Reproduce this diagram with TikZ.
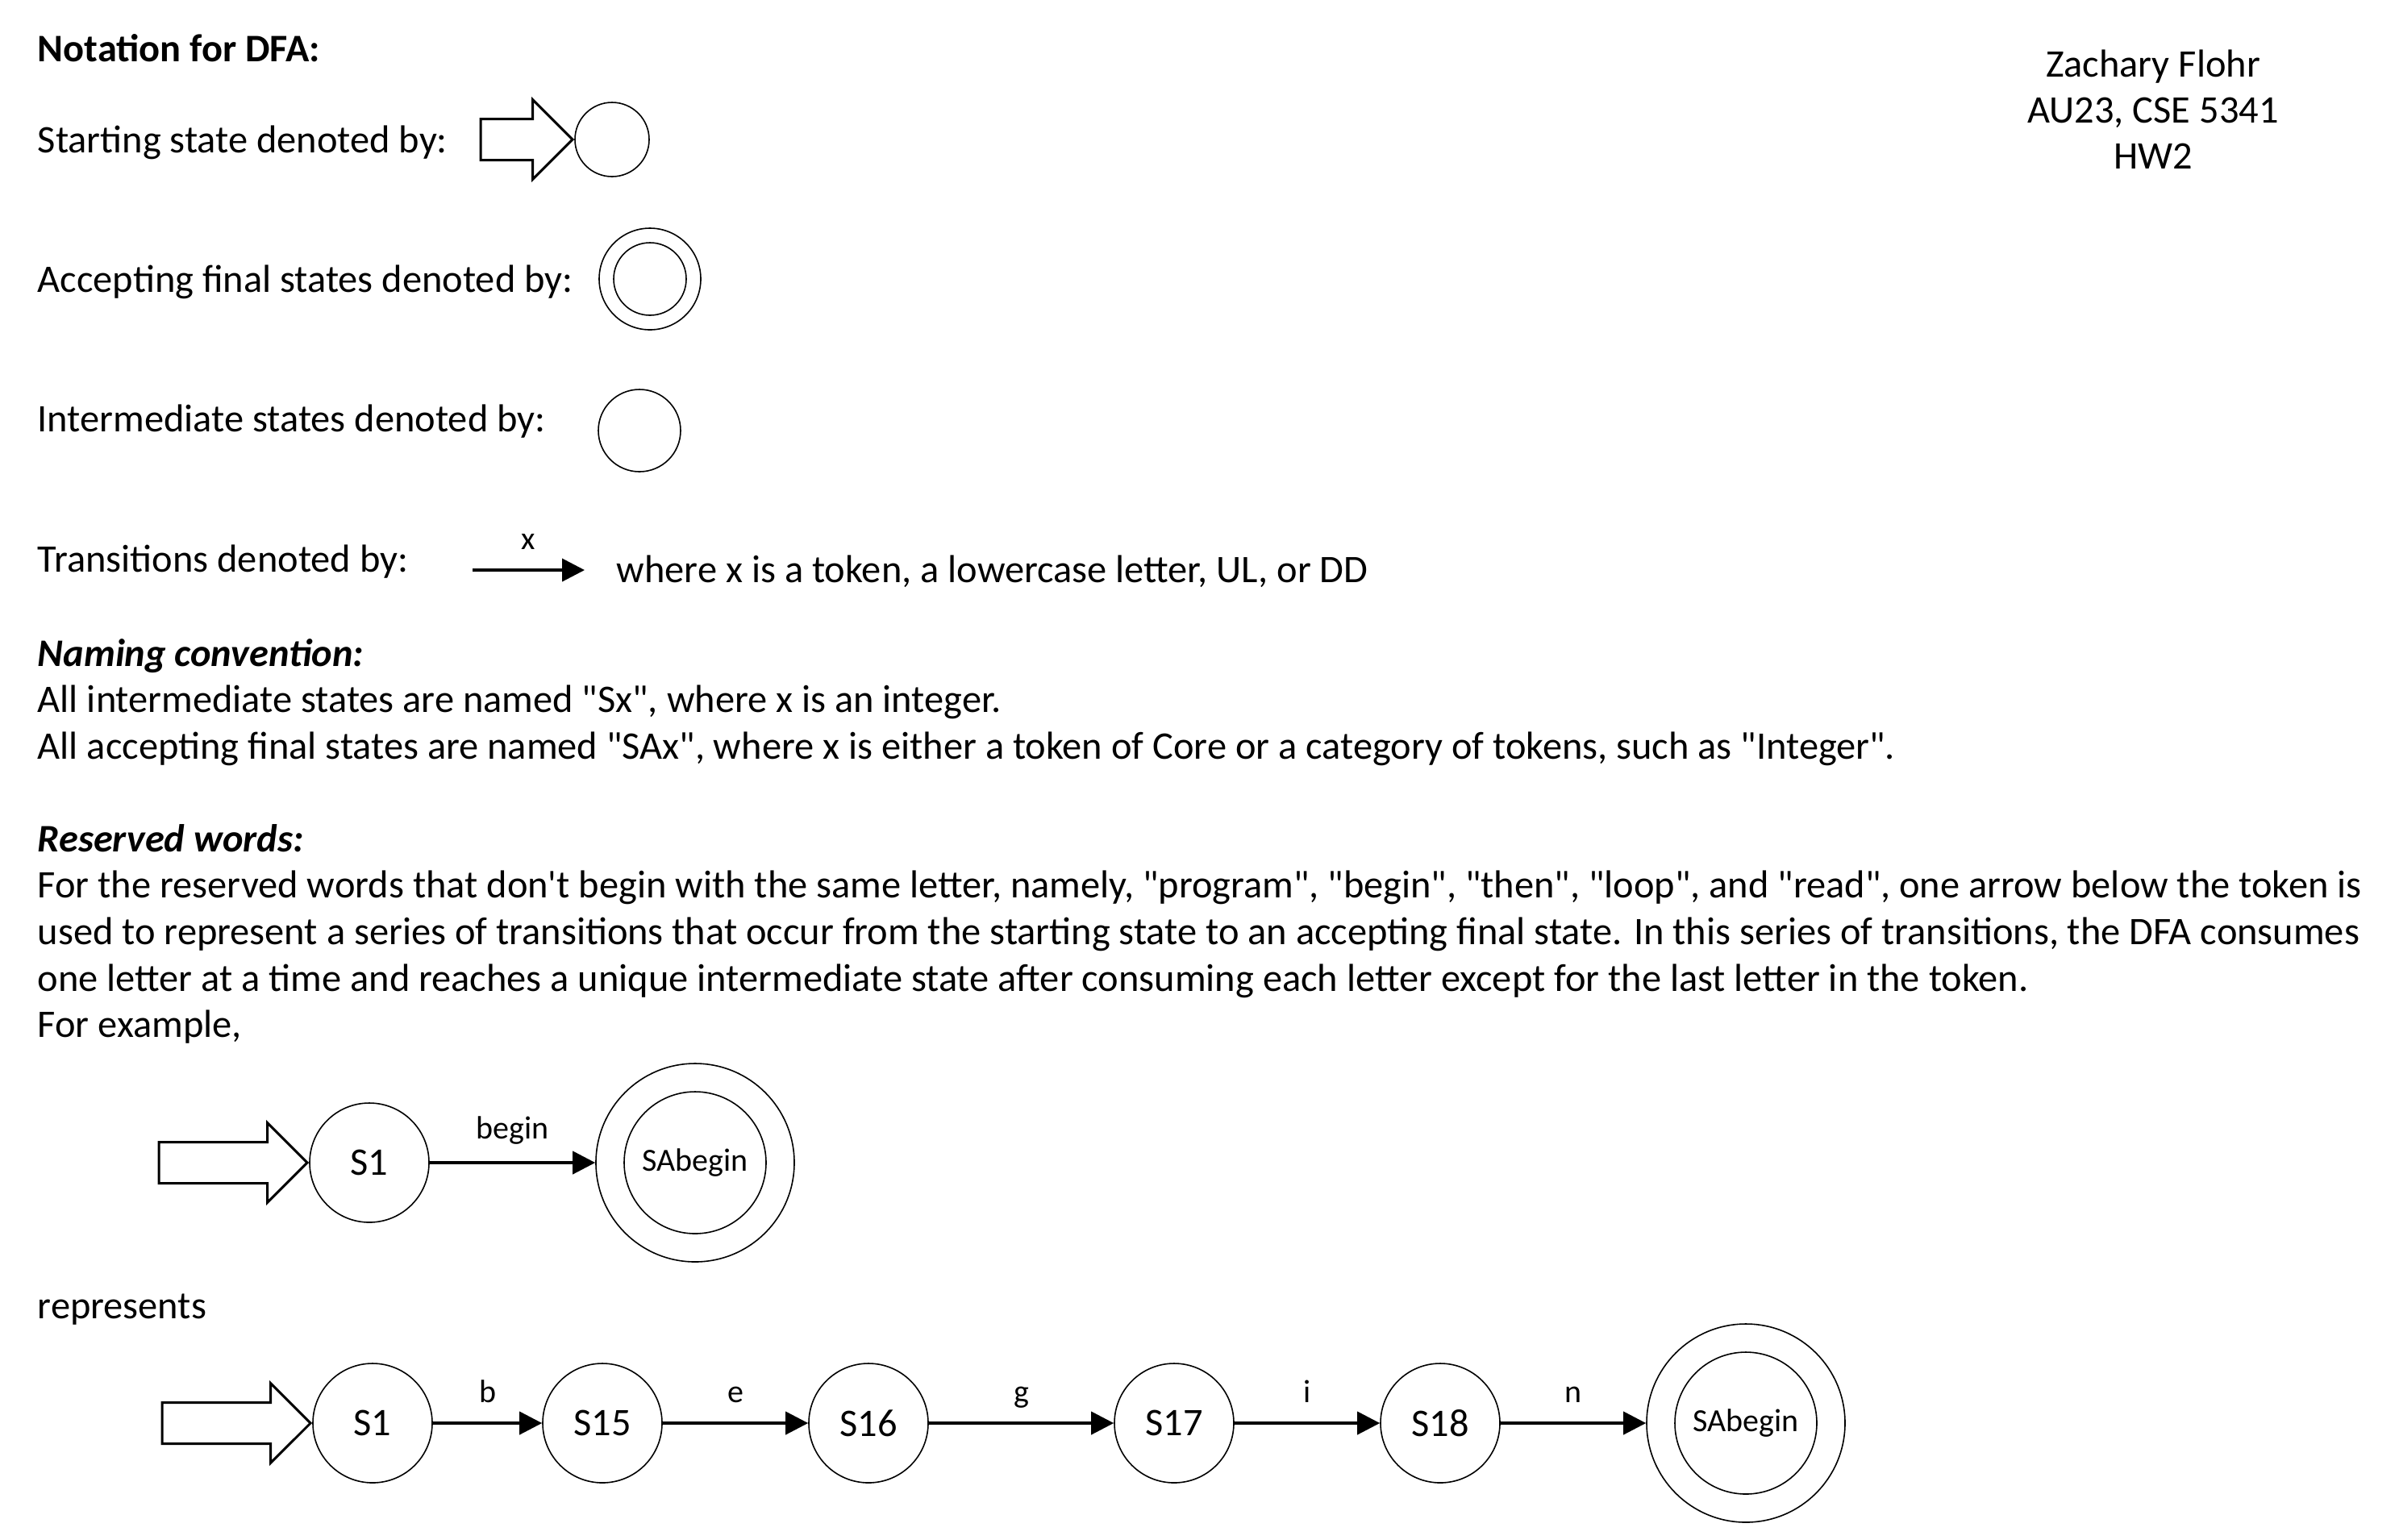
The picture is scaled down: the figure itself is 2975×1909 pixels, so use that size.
\documentclass[tikz,border=0pt]{standalone}
\usepackage{fontspec}
\setmainfont{Carlito}[Ligatures=TeXOff]
\usetikzlibrary{arrows.meta, shapes.arrows, positioning}
\newcommand{\lNotation}{Notation for DFA:}
\newcommand{\lStart}{Starting state denoted by:}
\newcommand{\lAccept}{Accepting final states denoted by:}
\newcommand{\lInter}{Intermediate states denoted by:}
\newcommand{\lTrans}{Transitions denoted by:}
\newcommand{\lWhere}{where x is a token, a lowercase letter, UL, or DD}
\newcommand{\lNaming}{Naming convention:}
\newcommand{\lReserved}{Reserved words:}

\begin{document}
\begin{tikzpicture} [
        x=0.25pt, y=-0.25pt,
        font=\fontsize{12.1}{14.5}\selectfont,
        txt/.style={anchor=base west, inner sep=0},
        head/.style={anchor=base, inner sep=0},
        state/.style={draw, circle, line width=0.4pt, inner sep=0, minimum size=37pt},
        final/.style={state, minimum size=44pt, font=\fontsize{10}{12}\selectfont},
        final outer/.style={state, minimum size=61.5pt},
        start arrow/.style={draw, single arrow, line width=0.75pt, single arrow head extend=6pt, single arrow tip angle=90, inner xsep=0, inner ysep=6pt, anchor=tip, minimum height=46pt},
        trans/.style={-{Triangle[length=7pt, width=7pt]}, line width=1pt},
        label trans/.style={midway, anchor=base, yshift=6.5pt, inner sep=0, font=\fontsize{10}{12}\selectfont}
    ]
    \useasboundingbox (0,0) rectangle (2975,1909);

    % header
    \node[head] (name) at (2670,95) {Zachary Flohr};
    \node[head] (course) at (2670,152) {AU23, CSE 5341};
    \node[head] (hw) at (2670,209) {HW2};

    % notation
    \node[txt] (notation) at (46,76) {\bfseries \lNotation};
    \node[txt] (t start) at (46,189) {\lStart};
    \node[state, minimum size=23pt] (leg start) at (759,173) {};
    \node[start arrow, minimum height=28.5pt] (leg start arrow) at (leg start.west) {};

    \node[txt] (t accept) at (46,362) {\lAccept};
    \node[state, minimum size=22.5pt] (leg accept) at (806,346) {};
    \node[state, minimum size=31.5pt] (leg accept outer) at (leg accept) {};

    \node[txt] (t inter) at (46,535) {\lInter};
    \node[state, minimum size=25.5pt] (leg inter) at (793,534) {};

    \node[txt] (t trans) at (46,709) {\lTrans};
    \coordinate (leg from) at (586,707);
    \coordinate (leg to) at (725,707);
    \draw[trans] (leg from) -- node[label trans] {x} (leg to);
    \node[txt] (t where) at (764,722) {\lWhere};

    % naming convention
    \node[txt] (naming) at (46,826) {\bfseries\itshape \lNaming};
    \node[txt] (naming a) at (46,883) {All intermediate states are named "Sx", where x is an integer.};
    \node[txt] (naming b) at (46,941) {All accepting final states are named "SAx", where x is either a token of Core or a category of tokens, such as "Integer".};

    % reserved words
    \node[txt] (reserved) at (46,1056) {\bfseries\itshape \lReserved};
    \node[txt] (reserved a) at (46,1113) {For the reserved words that don't begin with the same letter, namely, "program", "begin", "then", "loop", and "read", one arrow below the token is};
    \node[txt] (reserved b) at (46,1171) {used to represent a series of transitions that occur from the starting state to an accepting final state. In this series of transitions, the DFA consumes};
    \node[txt] (reserved c) at (46,1229) {one letter at a time and reaches a unique intermediate state after consuming each letter except for the last letter in the token.};
    \node[txt] (reserved d) at (46,1286) {For example,};

    % short form
    \node[state] (top s1) at (458,1442) {S1};
    \node[start arrow] (top start) at (top s1.west) {};
    \node[final] (top sa) at (862,1442) {SAbegin};
    \node[final outer] (top sa outer) at (top sa) {};
    \draw[trans] (top s1) -- node[label trans, yshift=1pt] {begin} (top sa outer);

    \node[txt] (represents) at (46,1635) {represents};

    % long form
    \node[state] (s1) at (462,1765) {S1};
    \node[start arrow] (s1 start) at (s1.west) {};
    \node[state] (s15) at (747,1765) {S15};
    \node[state] (s16) at (1077,1765) {S16};
    \node[state] (s17) at (1456,1765) {S17};
    \node[state] (s18) at (1786,1765) {S18};
    \node[final] (sa) at (2165,1765) {SAbegin};
    \node[final outer] (sa outer) at (sa) {};

    \draw[trans] (s1) -- node[label trans] {b} (s15);
    \draw[trans] (s15) -- node[label trans] {e} (s16);
    \draw[trans] (s16) -- node[label trans] {g} (s17);
    \draw[trans] (s17) -- node[label trans] {i} (s18);
    \draw[trans] (s18) -- node[label trans] {n} (sa outer);

\end{tikzpicture}
\end{document}
